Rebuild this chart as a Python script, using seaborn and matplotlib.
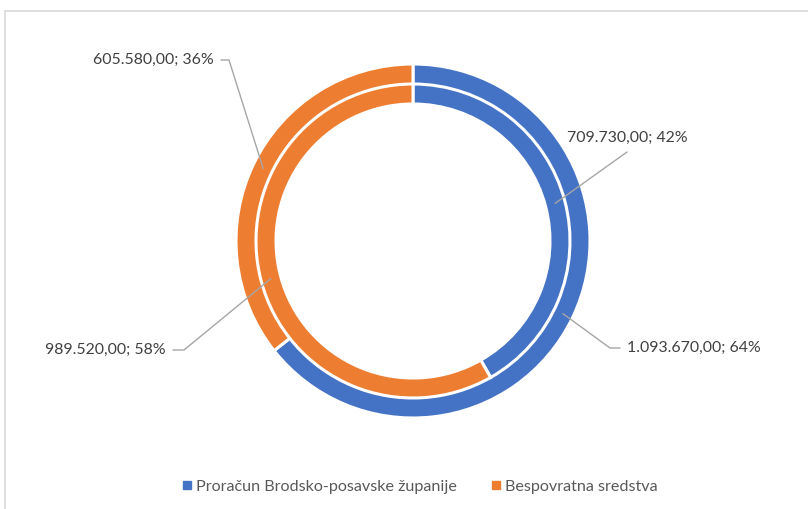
import matplotlib
matplotlib.use("Agg")
import matplotlib.pyplot as plt
import seaborn as sns
import numpy as np
from matplotlib.patches import Rectangle

# data
series_names = ["Proračun Brodsko-posavske županije", "Bespovratna sredstva"]
outer_values = [1093670.00, 605580.00]
inner_values = [709730.00, 989520.00]
outer_labels = ["1.093.670,00; 64%", "605.580,00; 36%"]
inner_labels = ["709.730,00; 42%", "989.520,00; 58%"]

sns.set_theme(style="white")
colors = ["#4472C4", "#ED7D31"]

W, H = 808, 509
fig = plt.figure(figsize=(W / 100, H / 100), dpi=100)
fig.patch.set_facecolor("white")

# light frame of the chart area
fig.patches.append(Rectangle((5 / W, -0.1), 1.2, 1.1 - 11 / H, transform=fig.transFigure,
                             fill=False, edgecolor="#D9D9D9", linewidth=1.2))

ax = fig.add_axes([0, 0, 1, 1])
ax.set_xlim(0, W)
ax.set_ylim(0, H)
ax.set_aspect("equal")
ax.axis("off")

cx, cy = 413, H - 241
R = 177
outer_w, inner_r, inner_w = 21, 157, 20

wp = dict(edgecolor="white", linewidth=2.2)
outer, _ = ax.pie(outer_values, radius=R, center=(cx, cy), colors=colors, startangle=90,
                  counterclock=False, wedgeprops=dict(width=outer_w, **wp))
inner, _ = ax.pie(inner_values, radius=inner_r, center=(cx, cy), colors=colors, startangle=90,
                  counterclock=False, wedgeprops=dict(width=inner_w, **wp))
ax.set_xlim(0, W)
ax.set_ylim(0, H)


def anchor(w, r):
    a = np.deg2rad((w.theta1 + w.theta2) / 2)
    return cx + r * np.cos(a), cy + r * np.sin(a)


txt = dict(fontsize=11.4, color="#404040", family=["Lato", "DejaVu Sans"], va="center")
line = dict(color="#A6A6A6", linewidth=1)

# outer blue
ax0 = anchor(outer[0], R - outer_w / 2)
ax.plot([ax0[0], 610, 620], [ax0[1], H - 348, H - 348], **line)
ax.text(627, H - 348, outer_labels[0], ha="left", **txt)
# outer orange
ax1 = anchor(outer[1], R - outer_w / 2)
ax.plot([ax1[0], 229, 221], [ax1[1], H - 60, H - 60], **line)
ax.text(214, H - 60, outer_labels[1], ha="right", **txt)
# inner blue
ai0 = anchor(inner[0], inner_r - inner_w / 2)
ax.plot([ai0[0], 627], [ai0[1], H - 152], **line)
ax.text(627, H - 138, inner_labels[0], ha="center", **txt)
# inner orange
ai1 = anchor(inner[1], inner_r - inner_w / 2)
ax.plot([ai1[0], 184, 173], [ai1[1], H - 350, H - 350], **line)
ax.text(166, H - 350, inner_labels[1], ha="right", **txt)

# legend
handles = [plt.Line2D([], [], marker="s", linestyle="", markersize=6, color=c) for c in colors]
leg = fig.legend(handles, series_names, loc="center", bbox_to_anchor=(420 / W, 1 - 487 / H),
                 ncol=2, frameon=False, handlelength=0.5, handletextpad=0.3, columnspacing=2.2,
                 prop=dict(family=["Lato", "DejaVu Sans"], size=11.6))
for t in leg.get_texts():
    t.set_color("#595959")

fig.savefig("out.png", dpi=100)
